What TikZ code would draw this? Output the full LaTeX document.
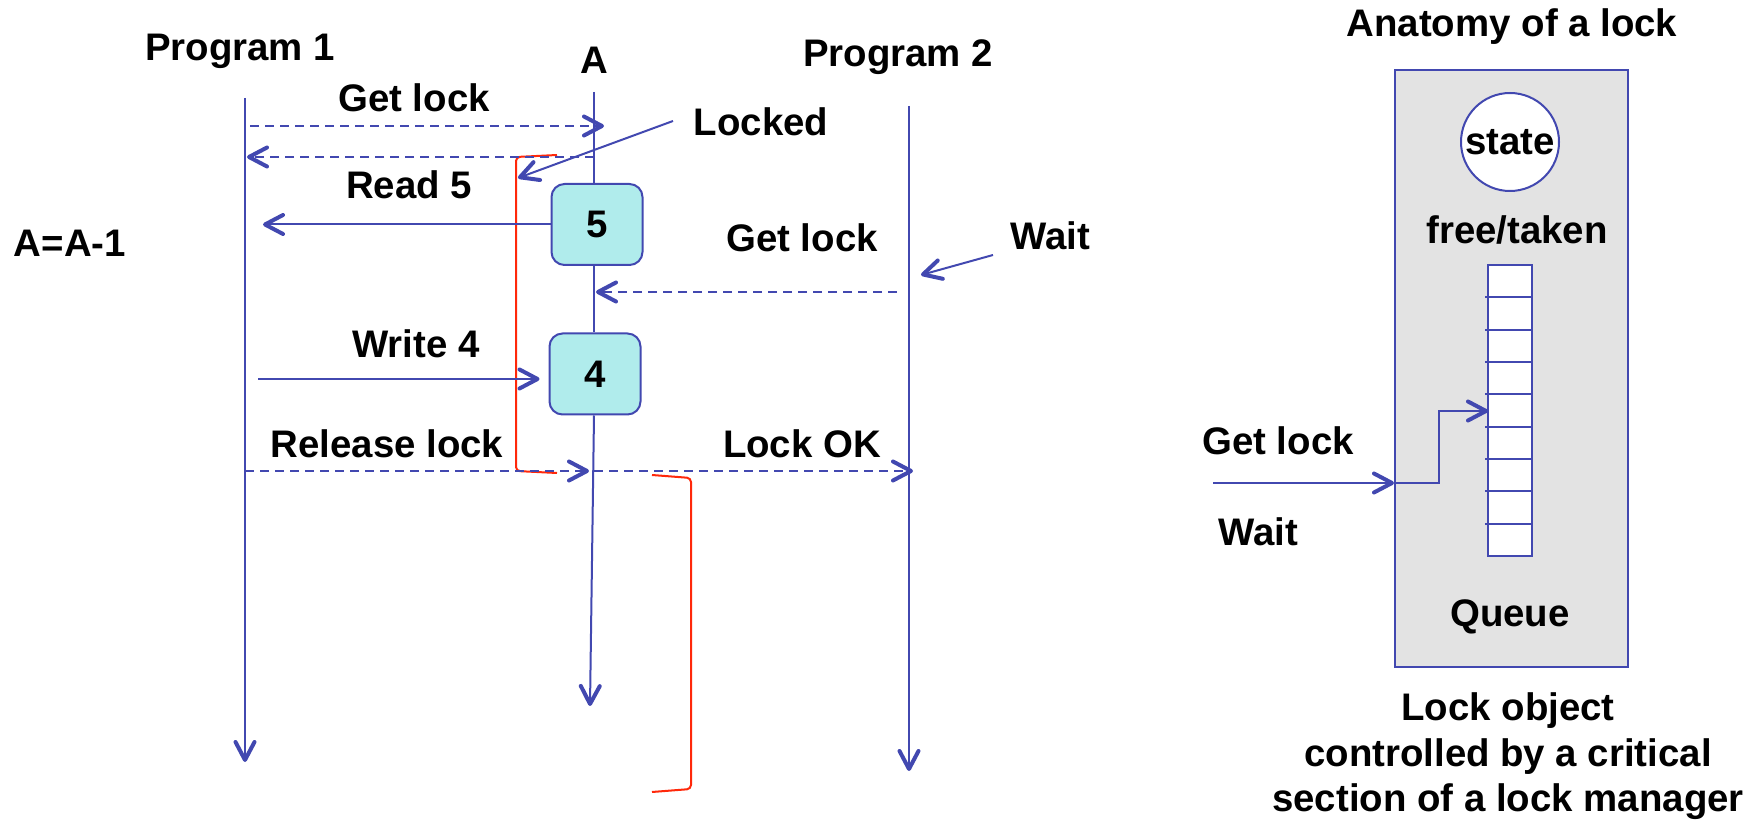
\documentclass[tikz,border=0pt]{standalone}
\usepackage{fontspec}
\setmainfont{Liberation Sans}
\usetikzlibrary{arrows.meta}
\definecolor{ink}{RGB}{66,72,176}
\definecolor{cellfill}{RGB}{176,236,236}
\definecolor{panelgray}{RGB}{227,227,227}
\definecolor{markred}{RGB}{255,40,10}

\begin{document}
\begin{tikzpicture}[x=0.5pt,y=-0.5pt,
  >={Straight Barb[length=9pt,width=9.5pt,line width=2pt,round]},
  lane/.style={draw=ink,line width=1pt},
  msg/.style={draw=ink,line width=1pt,->},
  dmsg/.style={draw=ink,line width=1.2pt,dash pattern=on 4.5pt off 3pt,->},
  lbl/.style={font=\fontsize{19.2}{23}\selectfont\bfseries,inner sep=0pt,anchor=base},
  valbox/.style={draw=ink,line width=1pt,fill=cellfill,rounded corners=6.5pt,
    minimum width=45.5pt,minimum height=40.5pt,inner sep=0pt,
    font=\fontsize{19.2}{23}\selectfont\bfseries},
  bracketline/.style={draw=markred,line width=1pt,rounded corners=2pt},
  cell/.style={draw=ink,line width=1pt,fill=white}]

\useasboundingbox (0,0) rectangle (1758,823);

% ---------- timeline ----------
\node[lbl] (p1name) at (240,61) {Program 1};
\node[lbl] (aname)  at (594,74) {A};
\node[lbl] (p2name) at (898,67) {Program 2};
\node[lbl] (calc)   at (70,257) {A=A-1};

% lifelines
\coordinate (p1top) at (245,98);
\coordinate (p1bot) at (245,762);
\coordinate (atop)  at (594,92);
\coordinate (abot)  at (590,706);
\coordinate (p2top) at (909,106);
\coordinate (p2bot) at (909,771);

\node[valbox] (b5) at (597,224.5) {5};
\node[valbox] (b4) at (595,374) {4};

\draw[lane,->] (p1top) -- (p1bot);
\draw[lane,->] (p2top) -- (p2bot);
\draw[lane] (atop) -- (atop |- b5.north);
\draw[lane] (atop |- b5.south) -- (atop |- b4.north);
\draw[lane,->] (atop |- b4.south) -- (abot);

% critical section brackets
\draw[bracketline] (557,155) -- (516,157) -- (516,471) -- (557,473);
\draw[bracketline] (652,475) -- (691,478) -- (691,789) -- (652,792);

% messages
\coordinate (gl1a) at (250,126);
\coordinate (gl1b) at (604,126);
\draw[dmsg] (gl1a) -- (gl1b);
\node[lbl] (gl1) at (414,112) {Get lock};

\coordinate (ret1a) at (594,157);
\coordinate (ret1b) at (247,157);
\draw[dmsg] (ret1a) -- (ret1b);

\node[lbl] (locked) at (761,136) {Locked};
\coordinate (lka) at (673,121);
\coordinate (lkb) at (518,178);
\draw[msg] (lka) -- (lkb);

\coordinate (rd5) at (263,224.5);
\draw[msg] (b5.west) -- (rd5);
\node[lbl] (read5) at (409,199) {Read 5};

\coordinate (gl2a) at (897,292);
\coordinate (gl2b) at (596,292);
\draw[dmsg] (gl2a) -- (gl2b);
\node[lbl] (gl2) at (802,252) {Get lock};

\node[lbl] (wait1) at (1050,250) {Wait};
\coordinate (wta) at (993,255);
\coordinate (wtb) at (921,275);
\draw[msg] (wta) -- (wtb);

\coordinate (wr4) at (258,379);
\draw[msg,shorten >=4.5pt] (wr4) -- (b4.west |- wr4);
\node[lbl] (write4) at (416,358) {Write 4};

\coordinate (rla) at (245,471);
\coordinate (rlb) at (589,471);
\coordinate (oka) at (594,471);
\coordinate (okb) at (913,471);
\draw[dmsg] (rla) -- (rlb);
\draw[dmsg] (oka) -- (okb);
\node[lbl] (rel) at (387,458) {Release lock};
\node[lbl] (lockok) at (802,458) {Lock OK};

% ---------- lock anatomy ----------
\node[lbl] (anat) at (1512,37) {Anatomy of a lock};
\node[draw=ink,line width=1pt,fill=panelgray,minimum width=116.5pt,
  minimum height=298.5pt,inner sep=0pt] (mgr) at (1511.5,368.5) {};
\node[circle,draw=ink,line width=1pt,fill=white,minimum size=49pt,inner sep=0pt,
  font=\fontsize{19.2}{23}\selectfont\bfseries] (state) at (1510,142) {state};
\node[lbl] (ft) at (1517,244) {free/taken};

\node[cell,minimum width=22pt,minimum height=145.5pt,inner sep=0pt] (queue) at (1510,410.5) {};
\foreach \k in {1,...,8}
  \draw[lane] (1485,{265+\k*32.33}) -- (1532,{265+\k*32.33});

\coordinate (glin) at (1213,483);
\coordinate (qin) at (1488,411);
\draw[msg] (glin) -- (mgr.west |- glin);
\draw[msg] (mgr.west |- glin) -- (1439,483) |- (qin);
\node[lbl] (gl3) at (1278,455) {Get lock};
\node[lbl] (wait2) at (1258,546) {Wait};
\node[lbl] (qname) at (1510,627) {Queue};

% caption: the base anchor sits on the last line
\node[lbl,align=center,anchor=base] (caption) at (1508,812)
  {Lock object\\controlled by a critical\\section of a lock manager};
\end{tikzpicture}
\end{document}
